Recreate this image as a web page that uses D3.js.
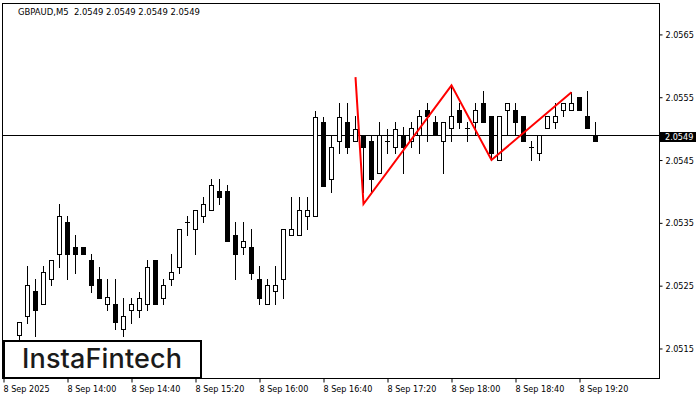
<!DOCTYPE html>
<html><head><meta charset="utf-8">
<script src="https://cdn.jsdelivr.net/npm/d3@7"></script>
<style>
html,body{margin:0;padding:0;background:#fff;}
svg{display:block;}
.t{font-family:"DejaVu Sans Condensed","DejaVu Sans",sans-serif;font-stretch:condensed;font-size:9px;fill:#000;}
</style></head>
<body><svg id="c" width="700" height="400"></svg>
<script>
// bar index (5-minute bars from 8 Sep 13:20)
const barIndex = d3.range(2, 75);
const opens  = [2.05171,2.05202,2.05241,2.05221,2.05261,2.05300,2.05351,2.05311,2.05311,2.05291,2.05261,2.05221,2.05221,2.05181,2.05211,2.05211,2.05221,2.05291,2.05230,2.05261,2.05280,2.05351,2.05340,2.05361,2.05370,2.05401,2.05401,2.05331,2.05311,2.05311,2.05261,2.05221,2.05241,2.05261,2.05331,2.05331,2.05361,2.05361,2.05510,2.05420,2.05480,2.05510,2.05480,2.05490,2.05480,2.05429,2.05480,2.05471,2.05490,2.05480,2.05490,2.05530,2.05510,2.05480,2.05501,2.05530,2.05501,2.05510,2.05541,2.05520,2.05450,2.05530,2.05530,2.05520,2.05471,2.05461,2.05501,2.05510,2.05530,2.05530,2.05550,2.05520,2.05490];
const highs  = [2.05192,2.05281,2.05261,2.05281,2.05291,2.05380,2.05361,2.05331,2.05311,2.05300,2.05280,2.05261,2.05261,2.05230,2.05230,2.05240,2.05291,2.05291,2.05261,2.05300,2.05340,2.05361,2.05370,2.05391,2.05420,2.05420,2.05410,2.05351,2.05351,2.05340,2.05281,2.05261,2.05281,2.05340,2.05391,2.05391,2.05391,2.05528,2.05518,2.05490,2.05541,2.05541,2.05520,2.05490,2.05490,2.05510,2.05499,2.05510,2.05503,2.05510,2.05530,2.05541,2.05520,2.05510,2.05569,2.05541,2.05510,2.05541,2.05560,2.05520,2.05520,2.05541,2.05541,2.05520,2.05480,2.05490,2.05520,2.05541,2.05541,2.05558,2.05550,2.05560,2.05510];
const lows   = [2.05165,2.05190,2.05170,2.05221,2.05251,2.05280,2.05261,2.05270,2.05300,2.05240,2.05230,2.05211,2.05181,2.05170,2.05190,2.05200,2.05211,2.05221,2.05221,2.05251,2.05270,2.05331,2.05300,2.05351,2.05370,2.05380,2.05321,2.05261,2.05300,2.05261,2.05221,2.05221,2.05221,2.05230,2.05331,2.05331,2.05340,2.05361,2.05409,2.05399,2.05461,2.05461,2.05480,2.05399,2.05399,2.05429,2.05461,2.05461,2.05429,2.05471,2.05461,2.05480,2.05490,2.05429,2.05480,2.05501,2.05480,2.05490,2.05510,2.05450,2.05450,2.05490,2.05490,2.05480,2.05450,2.05450,2.05501,2.05501,2.05520,2.05530,2.05530,2.05501,2.05480];
const closes = [2.05192,2.05251,2.05211,2.05272,2.05291,2.05361,2.05300,2.05300,2.05300,2.05251,2.05230,2.05232,2.05192,2.05202,2.05221,2.05230,2.05280,2.05221,2.05251,2.05272,2.05340,2.05351,2.05370,2.05380,2.05410,2.05391,2.05321,2.05300,2.05321,2.05270,2.05230,2.05251,2.05251,2.05340,2.05340,2.05370,2.05370,2.05518,2.05409,2.05471,2.05518,2.05471,2.05499,2.05471,2.05420,2.05490,2.05480,2.05499,2.05471,2.05501,2.05520,2.05520,2.05490,2.05510,2.05520,2.05510,2.05501,2.05530,2.05510,2.05461,2.05520,2.05541,2.05510,2.05480,2.05471,2.05490,2.05520,2.05520,2.05541,2.05541,2.05530,2.05501,2.05480];
// pattern (red zigzag) points: bar index, price
const patternIdx   = [44, 45, 56, 61, 71];
const patternPrice = [2.05582, 2.05380, 2.05569, 2.05450, 2.05558];
const priceTicks = [2.0515, 2.0525, 2.0535, 2.0545, 2.0555, 2.0565];
const timeTickIdx = [0, 8, 16, 24, 32, 40, 48, 56, 64, 72];
const timeLabels = ["8 Sep 2025","8 Sep 14:00","8 Sep 14:40","8 Sep 15:20","8 Sep 16:00","8 Sep 16:40","8 Sep 17:20","8 Sep 18:00","8 Sep 18:40","8 Sep 19:20"];
const lastPrice = 2.0549;
const title = "GBPAUD,M5  2.0549 2.0549 2.0549 2.0549";

const L = 2, R = 659, T = 3, B = 378;
const svg = d3.select("#c");
const x = d3.scaleLinear().domain([0, 82]).range([3, 659]);
const y = d3.scaleLinear().domain([2.05103, 2.05700]).range([378, 3]);
const Y = v => Math.round(y(v));

// frame
svg.append("rect").attr("x", L + 0.5).attr("y", T + 0.5).attr("width", R - L).attr("height", B - T)
  .attr("fill", "#fff").attr("stroke", "#000").attr("stroke-width", 1);

// title
svg.append("text").attr("class", "t").attr("x", 18).attr("y", 15).style("font-size", "9.4px")
  .style("white-space", "pre").text(title);

// current price line
svg.append("line").attr("x1", L).attr("x2", R).attr("y1", Y(lastPrice) + 0.5).attr("y2", Y(lastPrice) + 0.5)
  .attr("stroke", "#000").attr("stroke-width", 1);

// candles
const g = svg.append("g");
barIndex.forEach((n, i) => {
  const X = x(n);
  const o = opens[i], h = highs[i], l = lows[i], c = closes[i];
  g.append("line").attr("x1", X + 0.5).attr("x2", X + 0.5).attr("y1", Y(h)).attr("y2", Y(l) + 1)
    .attr("stroke", "#000").attr("stroke-width", 1);
  const top = Y(Math.max(o, c)), bot = Y(Math.min(o, c));
  if (c > o) {
    g.append("rect").attr("x", X - 1.5).attr("y", top + 0.5).attr("width", 4).attr("height", Math.max(bot - top, 0))
      .attr("fill", "#fff").attr("stroke", "#000").attr("stroke-width", 1);
  } else if (c < o) {
    g.append("rect").attr("x", X - 2).attr("y", top).attr("width", 5).attr("height", Math.max(bot - top, 1) + 1)
      .attr("fill", "#000");
  } else {
    g.append("line").attr("x1", X - 2).attr("x2", X + 3).attr("y1", top + 0.5).attr("y2", top + 0.5)
      .attr("stroke", "#000").attr("stroke-width", 1);
  }
});

// pattern
const pts = patternIdx.map((n, i) => [x(n) + 0.5, y(patternPrice[i])]);
svg.append("path").attr("d", d3.line()(pts)).attr("fill", "none").attr("stroke", "#ff0000")
  .attr("stroke-width", 2).attr("stroke-linejoin", "miter");

// y axis
const ya = svg.append("g").attr("transform", `translate(${R + 0.5},0)`)
  .call(d3.axisRight(y).tickValues(priceTicks).tickSize(3).tickPadding(3).tickFormat(d3.format(".4f")));
ya.select(".domain").remove();
ya.selectAll(".tick line").attr("stroke", "#000");
ya.selectAll(".tick text").attr("class", "t").attr("dy", "0.33em");
ya.attr("font-size", null).attr("font-family", null);

// last price label
svg.append("rect").attr("x", R + 1).attr("y", Y(lastPrice) - 3).attr("width", 36).attr("height", 10).attr("fill", "#000");
svg.append("text").attr("class", "t").attr("x", R + 6).attr("y", Y(lastPrice) + 5).style("fill", "#fff")
  .text(d3.format(".4f")(lastPrice));

// x axis
const xa = svg.append("g").attr("transform", `translate(0,${B + 0.5})`)
  .call(d3.axisBottom(x).tickValues(timeTickIdx).tickSize(4).tickFormat((d, i) => timeLabels[i]));
xa.select(".domain").remove();
xa.selectAll(".tick line").attr("stroke", "#000").attr("transform", "translate(0.5,0)");
xa.selectAll(".tick text").attr("class", "t").attr("text-anchor", "start").attr("dy", null).attr("y", 13.5);
xa.attr("font-size", null).attr("font-family", null);

// logo
svg.append("rect").attr("x", 4).attr("y", 341).attr("width", 197).attr("height", 37)
  .attr("fill", "#fff").attr("stroke", "#000").attr("stroke-width", 2);
svg.append("text").attr("x", 22).attr("y", 368).attr("font-family", "Inter, 'Open Sans', sans-serif")
  .attr("font-size", 27).attr("font-weight", 500).attr("fill", "#1a1a1a").attr("textLength", 160)
  .text("InstaFintech");
</script></body></html>
